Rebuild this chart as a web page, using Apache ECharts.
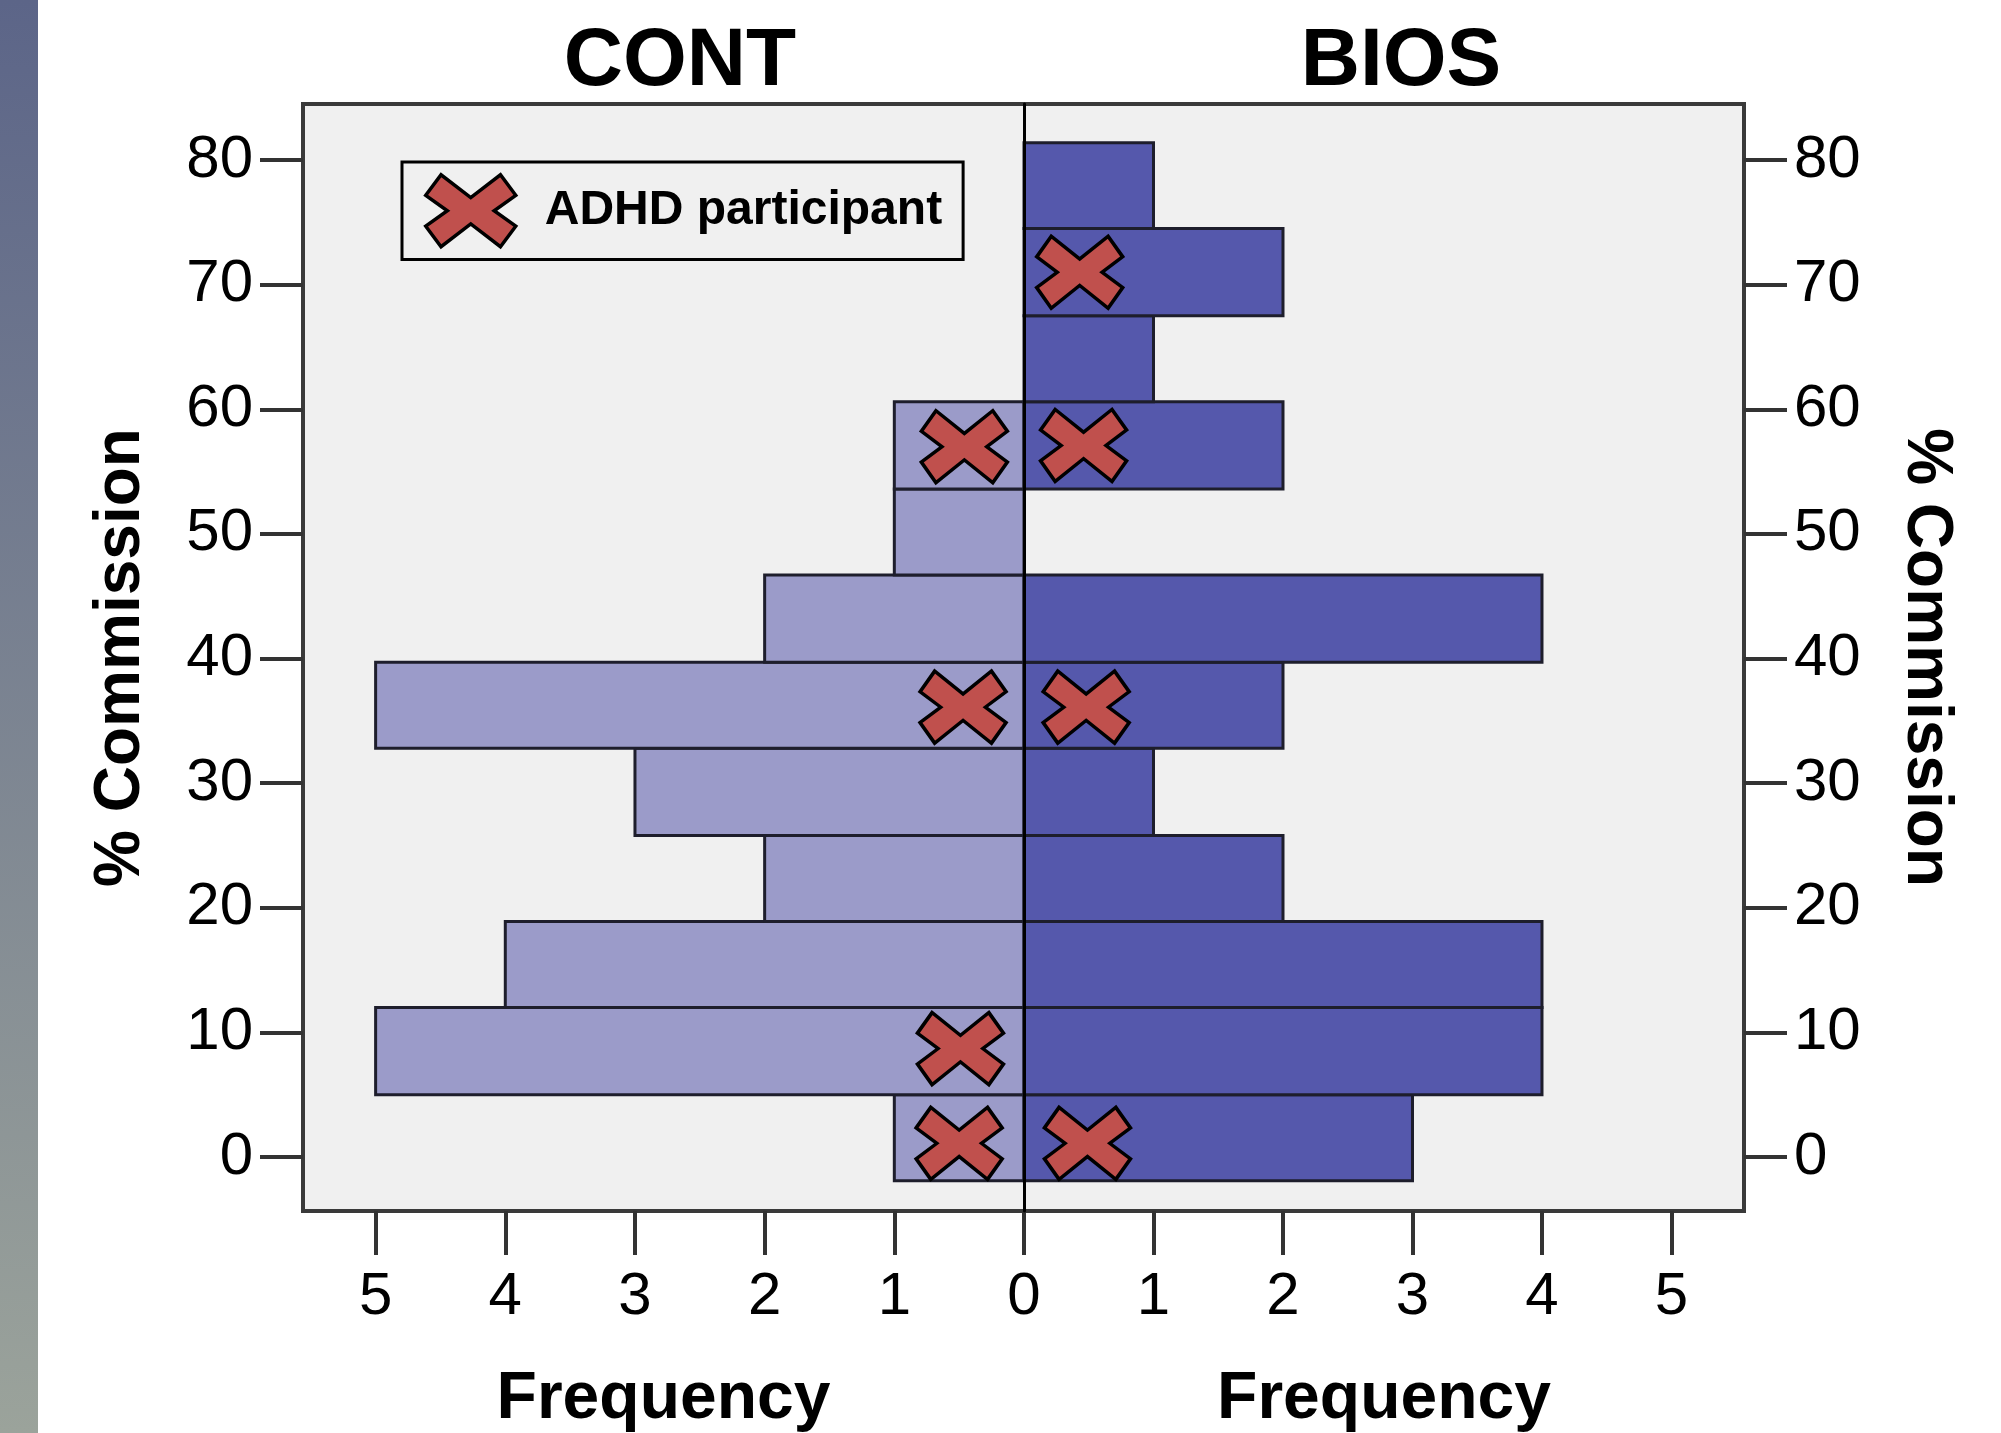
<!DOCTYPE html>
<html>
<head>
<meta charset="utf-8">
<title>% Commission - CONT / BIOS</title>
<script src="https://cdn.jsdelivr.net/npm/echarts@6/dist/echarts.min.js"></script>
<style>
  html, body { margin: 0; padding: 0; background: #fff; }
  #chart { width: 2001px; height: 1433px; }
</style>
</head>
<body>
<div id="chart"></div>
<script>
// histogram bin edges (% Commission)
var binEdges = [-1.9, 5.0, 12.0, 18.9, 25.8, 32.8, 39.7, 46.7, 53.6, 60.6, 67.5, 74.5, 81.4];
// frequency per bin, bottom to top
var contCounts = [1, 5, 4, 2, 3, 5, 2, 1, 1, 0, 0, 0];
var biosCounts = [3, 4, 4, 2, 1, 2, 4, 0, 2, 1, 2, 1];
// ADHD participants: [frequency offset from 0, % commission]
var adhdCont = [[0.50, 1.1], [0.49, 8.7], [0.47, 36.1], [0.46, 57.0]];
var adhdBios = [[0.49, 1.1], [0.48, 36.1], [0.46, 57.1], [0.43, 71.0]];
// tick labels
var freqTicksLeft = [1, 2, 3, 4, 5];
var freqTicksRight = [0, 1, 2, 3, 4, 5];
var commTicks = [0, 10, 20, 30, 40, 50, 60, 70, 80];

var font = '"Liberation Sans", Arial, sans-serif';
var xPath = 'path://M0 29L17 1L50 32L83 1L100 29L76 50L100 71L83 99L50 68L17 99L0 71L24 50Z';
var tickLine = { color: '#333', width: 4 };

var chart = echarts.init(document.getElementById('chart'));

function histData(counts) {
    var out = [];
    for (var i = 0; i < counts.length; i++) {
        out.push([counts[i], binEdges[i], binEdges[i + 1]]);
    }
    return out;
}

// one rect per bin, from 0 to count
function barItem(color) {
    return function (params, api) {
        var n = api.value(0);
        if (!n) return null;
        var a = api.coord([0, api.value(2)]);
        var b = api.coord([n, api.value(1)]);
        return {
            type: 'rect',
            shape: {
                x: Math.min(a[0], b[0]),
                y: Math.min(a[1], b[1]),
                width: Math.abs(b[0] - a[0]),
                height: Math.abs(b[1] - a[1])
            },
            style: { fill: color, stroke: '#1e1e2c', lineWidth: 3 }
        };
    };
}

function freqAxis(grid, ticks, inverse) {
    return {
        type: 'value', gridIndex: grid, position: 'bottom', min: 0, max: 5.56, inverse: inverse,
        name: 'Frequency', nameLocation: 'middle', nameGap: 156,
        nameTextStyle: { fontSize: 66, fontWeight: 'bold', color: '#000', fontFamily: font },
        axisLine: { show: false, onZero: false },
        axisTick: { show: true, length: 44, customValues: ticks, lineStyle: tickLine },
        axisLabel: { show: true, margin: 56, customValues: ticks, fontSize: 60, color: '#000', fontFamily: font },
        splitLine: { show: false }
    };
}

function commAxis(grid, pos, rotate) {
    return {
        type: 'value', gridIndex: grid, position: pos, min: -4.33, max: 84.5,
        name: '% Commission', nameLocation: 'middle', nameGap: 150, nameRotate: rotate,
        nameTextStyle: { fontSize: 64, fontWeight: 'bold', color: '#000', fontFamily: font },
        axisLine: { show: false, onZero: false },
        axisTick: { show: true, length: 43, customValues: commTicks, lineStyle: tickLine },
        axisLabel: { show: true, margin: 50, customValues: commTicks, fontSize: 60, color: '#000', fontFamily: font },
        splitLine: { show: false }
    };
}

var option = {
    animation: false,
    backgroundColor: '#fff',
    title: [
        { text: 'CONT', left: 680, top: 21, textAlign: 'center', padding: 0,
          textStyle: { fontSize: 82, fontWeight: 'bold', color: '#000', fontFamily: font } },
        { text: 'BIOS', left: 1401, top: 21, textAlign: 'center', padding: 0,
          textStyle: { fontSize: 82, fontWeight: 'bold', color: '#000', fontFamily: font } }
    ],
    graphic: [{
        type: 'rect', left: 0, top: 0, silent: true,
        shape: { width: 38, height: 1433 },
        style: {
            fill: new echarts.graphic.LinearGradient(0, 0, 0, 1, [
                { offset: 0, color: '#5c6588' },
                { offset: 1, color: '#9ba39b' }
            ])
        }
    }],
    legend: {
        data: ['ADHD participant'],
        left: 402, top: 162,
        padding: [11, 21, 11, 22],
        borderColor: '#000', borderWidth: 3,
        icon: xPath, symbolKeepAspect: false,
        itemWidth: 90, itemHeight: 72,
        itemStyle: { color: '#c0504d', borderColor: '#000', borderWidth: 3.5 },
        textStyle: { fontSize: 48, fontWeight: 'bold', color: '#000', fontFamily: font, padding: [0, 0, 0, 24] },
        selectedMode: false
    },
    grid: [
        // frame + background
        { left: 303, right: 257, top: 104, bottom: 222, show: true, outerBoundsMode: 'none',
          backgroundColor: '#f0f0f0', borderColor: '#3a3a3a', borderWidth: 4 },
        // CONT half
        { left: 303, right: 977, top: 104, bottom: 222, outerBoundsMode: 'none' },
        // BIOS half
        { left: 1024, right: 257, top: 104, bottom: 222, outerBoundsMode: 'none' }
    ],
    xAxis: [
        { type: 'value', gridIndex: 0, show: false, min: 0, max: 1 },
        freqAxis(1, freqTicksLeft, true),
        freqAxis(2, freqTicksRight, false)
    ],
    yAxis: [
        { type: 'value', gridIndex: 0, show: false, min: 0, max: 1 },
        commAxis(1, 'left', 90),
        commAxis(2, 'right', -90),
        // centre line at frequency 0
        { type: 'value', gridIndex: 2, position: 'left', min: -4.33, max: 84.5, z: 10,
          axisLine: { show: true, onZero: false, lineStyle: { color: '#000', width: 3 } },
          axisTick: { show: false }, axisLabel: { show: false }, splitLine: { show: false } }
    ],
    series: [
        {
            name: 'CONT', type: 'custom', xAxisIndex: 1, yAxisIndex: 1,
            renderItem: barItem('#9b9bc9'),
            encode: { x: 0, y: [1, 2] },
            data: histData(contCounts)
        },
        {
            name: 'BIOS', type: 'custom', xAxisIndex: 2, yAxisIndex: 2,
            renderItem: barItem('#5558ac'),
            encode: { x: 0, y: [1, 2] },
            data: histData(biosCounts)
        },
        {
            name: 'ADHD participant', type: 'scatter', xAxisIndex: 1, yAxisIndex: 1,
            symbol: xPath, symbolSize: [86, 72], symbolKeepAspect: false, z: 5,
            itemStyle: { color: '#c0504d', borderColor: '#000', borderWidth: 3.5, opacity: 1 },
            data: adhdCont
        },
        {
            name: 'ADHD participant', type: 'scatter', xAxisIndex: 2, yAxisIndex: 2,
            symbol: xPath, symbolSize: [86, 72], symbolKeepAspect: false, z: 5,
            itemStyle: { color: '#c0504d', borderColor: '#000', borderWidth: 3.5, opacity: 1 },
            data: adhdBios
        }
    ]
};

chart.setOption(option);
</script>
</body>
</html>
